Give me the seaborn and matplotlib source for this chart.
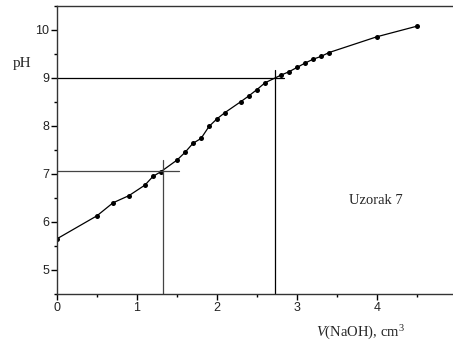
import matplotlib
matplotlib.use("Agg")
import matplotlib.pyplot as plt
import seaborn as sns
import pandas as pd
from matplotlib.ticker import MultipleLocator

volume = [0.0, 0.5, 0.7, 0.9, 1.1, 1.2, 1.3, 1.5, 1.6, 1.7, 1.8, 1.9, 2.0, 2.1,
          2.3, 2.4, 2.5, 2.6, 2.8, 2.9, 3.0, 3.1, 3.2, 3.3, 3.4, 4.0, 4.5]
ph = [5.65, 6.13, 6.40, 6.55, 6.77, 6.95, 7.05, 7.29, 7.45, 7.64, 7.74, 7.99, 8.15, 8.28,
      8.51, 8.63, 8.76, 8.90, 9.06, 9.13, 9.22, 9.31, 9.39, 9.45, 9.53, 9.86, 10.08]

# equivalence-point construction lines
eq1_v, eq1_ph = 1.32, 7.07
eq2_v, eq2_ph = 2.72, 9.0

df = pd.DataFrame({"V": volume, "pH": ph})

sns.set_theme(style="ticks")
plt.rcParams["font.family"] = ["Liberation Sans", "DejaVu Sans"]
plt.rcParams["mathtext.fontset"] = "custom"
plt.rcParams["mathtext.it"] = "Liberation Serif:italic"
plt.rcParams["mathtext.rm"] = "Liberation Serif"

fig = plt.figure(figsize=(4.53, 3.49), dpi=100)
ax = fig.add_axes([57 / 453, 1 - 294 / 349, 400 / 453, 288 / 349])

sns.lineplot(data=df, x="V", y="pH", ax=ax, color="black", linewidth=0.9,
             marker="o", markersize=3.6, markeredgewidth=0, markerfacecolor="black")

ax.plot([0, 1.52], [eq1_ph, eq1_ph], color="#444444", lw=0.9)
ax.plot([eq1_v, eq1_v], [4.5, 7.3], color="#444444", lw=0.9)
ax.plot([0, 2.84], [eq2_ph, eq2_ph], color="black", lw=0.9)
ax.plot([eq2_v, eq2_v], [4.5, 9.17], color="black", lw=0.9)

ax.set_xlim(0, 5)
ax.set_ylim(4.5, 10.5)
ax.xaxis.set_major_locator(MultipleLocator(1))
ax.xaxis.set_minor_locator(MultipleLocator(0.5))
ax.yaxis.set_major_locator(MultipleLocator(1))
ax.yaxis.set_minor_locator(MultipleLocator(0.5))
ax.tick_params(which="major", direction="out", length=4, width=1, labelsize=9, pad=1.5,
               color="black", labelcolor="#222222")
ax.tick_params(which="minor", direction="out", length=2.5, width=1, color="black")
for lab in ax.get_xticklabels() + ax.get_yticklabels():
    lab.set_family(["Liberation Sans"])

for side in ["left", "bottom", "top", "right"]:
    ax.spines[side].set_color("#333333")
    ax.spines[side].set_linewidth(1.0)

ax.set_xlabel("")
ax.set_ylabel("")
fig.text(22 / 453, 1 - 63 / 349, "pH", family=["Liberation Serif"], fontsize=11,
         ha="center", va="center")
fig.text(360 / 453, 1 - 333 / 349, r"$\mathit{V}$(NaOH), cm$^{3}$",
         family=["Liberation Serif"], fontsize=10.5, ha="center", va="center")
ax.text(3.98, 6.45, "Uzorak 7", family=["Liberation Serif"], fontsize=10.5,
        ha="center", va="center")

fig.savefig("out.png", dpi=100)
